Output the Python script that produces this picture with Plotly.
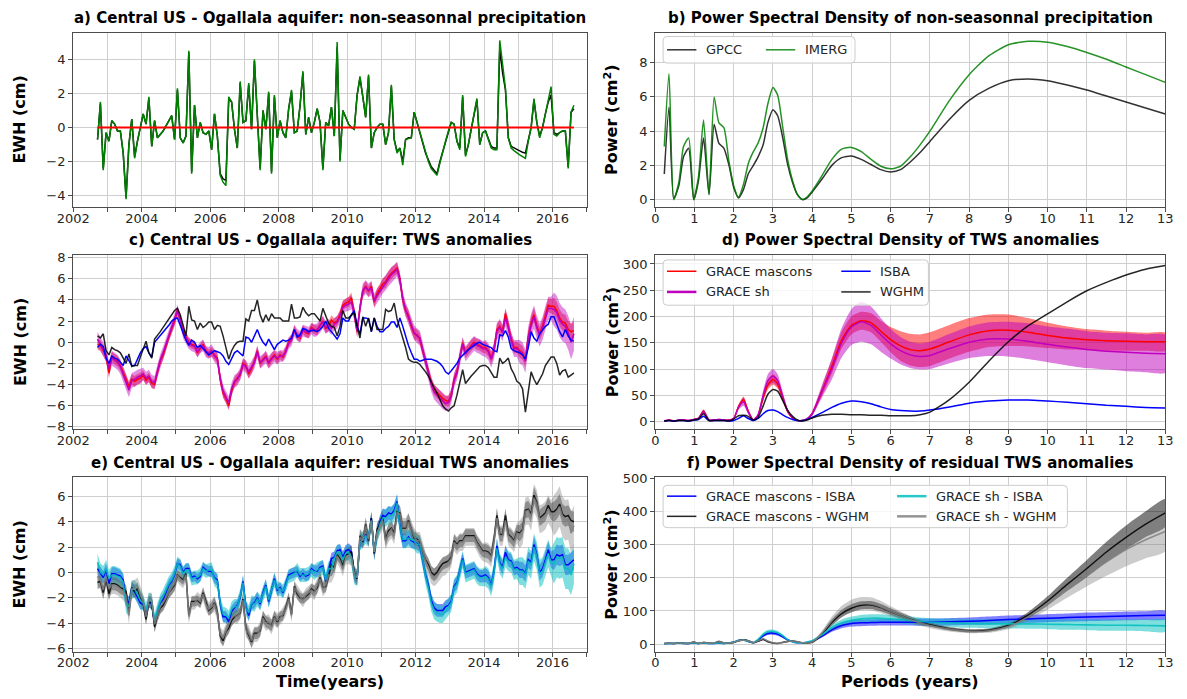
import plotly.graph_objects as go

W, H = 1187, 699
FONT = "DejaVu Sans"

# ---------------------------------------------------------------------------
# Monthly time axis, Sep 2002 .. Aug 2016 (one row of values per year)
# ---------------------------------------------------------------------------
START = (2002, 9)
END = (2016, 8)
YEARS = list(range(2002, 2017))


def month_axis():
    t, (y, m) = [], START
    while (y, m) <= END:
        t.append(y + (m - 0.5) / 12.0)
        m += 1
        if m > 12:
            y, m = y + 1, 1
    return t


def flat(rows):
    return [v for r in rows for v in r]


# a) non-seasonal precipitation (cm EWH)
imerg_rows = [
    [-0.7, 1.5, -2.5, -0.3],
    [-0.8, 0.4, 0.2, -0.2, -0.2, -1.5, -4.2, -1.0, 0.5, -1.8, -0.8, 0.0],
    [0.8, 0.2, 1.8, -1.1, 0.4, -0.6, -0.4, -0.2, 0.1, 0.4, 0.7, -0.7],
    [2.3, -0.6, -0.9, -0.5, 4.5, -2.7, 1.3, -0.6, 0.3, -0.3, -0.4, -0.2],
    [-1.3, 0.8, -0.5, -2.8, -3.2, -3.4, 1.8, 1.5, -0.1, -1.2, 2.7, 0.3],
    [0.4, 2.6, -0.1, 4.0, 0.9, -2.5, 1.0, -0.1, 2.1, -2.7, 1.9, -0.6],
    [0.4, -0.3, -0.6, 1.1, 2.2, -0.3, -0.2, 1.3, 3.3, -0.4, 0.6, -0.3],
    [0.3, 1.1, 0.3, -2.5, 0.3, 0.1, 1.2, -0.5, 5.0, -2.0, 1.0, 0.6],
    [0.2, 0.0, -0.1, 1.9, 3.0, 1.8, 0.6, 3.1, -1.2, -0.3, 0.0, 0.2],
    [0.2, -1.0, -0.3, 2.5, -0.7, -1.5, -1.2, -2.2, -0.7, -0.65, -0.6, 0.9],
    [0.3, -0.3, -0.9, -1.5, -2.0, -2.4, -2.6, -2.8, -2.1, -1.4, -0.8, -0.2],
    [0.3, 0.2, -0.8, -1.3, 1.9, -1.7, -1.0, -0.1, 0.8, 1.7, -1.0, -0.3],
    [-0.2, -0.7, -1.2, -1.3, -1.3, 5.1, 3.5, 2.3, -0.6, -1.2, -1.35, -1.5],
    [-1.6, -1.7, -1.8, -0.8, 0.0, 1.7, 0.3, -0.6, 0.0, 0.8, 1.7, 2.4],
    [-0.4, -0.5, -0.3, -0.2, -0.2, -2.4, 0.9, 1.3],
]
gpcc_rows = [
    [-0.7, 1.4, -2.4, -0.3],
    [-0.8, 0.4, 0.2, -0.2, -0.2, -1.5, -4.1, -1.0, 0.5, -1.7, -0.8, 0.0],
    [0.8, 0.2, 1.7, -1.1, 0.4, -0.6, -0.4, -0.2, 0.1, 0.4, 0.7, -0.7],
    [2.2, -0.6, -0.9, -0.5, 4.4, -2.6, 1.3, -0.6, 0.3, -0.3, -0.4, -0.2],
    [-1.3, 0.8, -0.5, -2.7, -3.0, -3.1, 1.7, 1.5, -0.1, -1.2, 2.6, 0.3],
    [0.4, 2.5, -0.1, 3.9, 0.9, -2.4, 1.0, -0.1, 2.0, -2.6, 1.8, -0.6],
    [0.4, -0.3, -0.6, 1.1, 2.1, -0.3, -0.2, 1.3, 3.2, -0.4, 0.6, -0.3],
    [0.3, 1.1, 0.3, -2.4, 0.3, 0.1, 1.2, -0.5, 4.7, -1.9, 1.0, 0.6],
    [0.2, 0.0, -0.1, 1.9, 2.9, 1.8, 0.6, 3.0, -1.2, -0.3, 0.0, 0.2],
    [0.2, -1.0, -0.3, 2.4, -0.7, -1.4, -1.2, -2.0, -0.7, -0.6, -0.6, 0.9],
    [0.3, -0.3, -0.9, -1.5, -1.9, -2.3, -2.5, -2.7, -2.0, -1.4, -0.8, -0.2],
    [0.3, 0.2, -0.8, -1.2, 1.8, -1.6, -1.0, -0.1, 0.8, 1.6, -1.0, -0.3],
    [-0.2, -0.7, -1.1, -1.2, -1.2, 4.6, 3.2, 2.2, -0.6, -1.1, -1.2, -1.3],
    [-1.4, -1.45, -1.5, -0.7, 0.0, 1.6, 0.3, -0.5, 0.0, 0.8, 1.5, 1.9],
    [-0.3, -0.4, -0.3, -0.2, -0.2, -2.3, 0.9, 1.1],
]

# c) TWS anomalies (cm EWH)
mascons_rows = [
    [-0.2, -0.3, -0.8, -1.3],
    [-2.9, -1.4, -1.6, -1.8, -2.2, -2.8, -3.5, -4.2, -3.5, -3.7, -3.5, -3.4],
    [-3.1, -3.6, -3.3, -3.9, -4.0, -2.8, -1.8, -1.2, -0.3, 0.6, 1.3, 2.0],
    [3.0, 2.2, 1.0, 0.5, 0.0, -0.2, -0.3, -1.0, -0.6, -0.2, -0.8, -1.1],
    [-0.9, -1.2, -1.5, -3.5, -4.8, -5.3, -6.0, -4.6, -3.8, -3.4, -3.1, -2.0],
    [-2.2, -3.0, -2.5, -1.8, -0.8, -2.0, -1.6, -1.3, -2.0, -1.5, -1.2, -1.6],
    [-1.2, -1.4, -0.8, 0.0, 0.3, 1.2, 0.6, 0.4, 1.2, 0.9, 0.8, 1.4],
    [1.2, 1.1, 1.6, 2.0, 1.3, 1.5, 2.1, 1.8, 2.0, 2.6, 3.5, 3.7],
    [3.8, 4.2, 2.8, 1.0, 3.3, 4.8, 5.3, 4.8, 5.3, 3.8, 4.6, 5.0],
    [5.5, 5.7, 6.2, 6.5, 6.8, 7.0, 6.0, 4.0, 3.0, 2.5, 1.5, 0.8],
    [0.7, 0.3, -0.8, -1.8, -2.6, -3.8, -4.5, -4.8, -5.0, -5.3, -5.5, -5.6],
    [-5.0, -3.5, -2.8, -1.3, -0.1, -1.0, -0.6, -0.3, 0.0, -0.2, -0.3, -0.5],
    [-0.5, -0.8, -1.5, -0.7, 1.2, 1.5, 1.0, 2.7, 1.5, 0.3, -0.5, -0.5],
    [-0.8, -1.0, -1.7, 0.5, 1.8, 2.6, 1.5, 0.8, 1.5, 2.5, 3.5, 3.4],
    [3.4, 3.0, 2.3, 1.9, 1.8, 1.2, 1.0, 1.1],
]
sh_rows = [
    [0.3, -0.2, -0.6, -1.2],
    [-2.5, -1.5, -1.7, -1.9, -2.3, -3.0, -3.8, -4.5, -3.6, -3.5, -3.3, -3.2],
    [-3.0, -3.4, -3.2, -3.7, -3.8, -2.7, -1.7, -1.0, -0.2, 0.7, 1.4, 2.1],
    [3.0, 2.1, 0.9, 0.4, -0.1, -0.3, -0.4, -0.9, -0.5, -0.3, -0.9, -1.0],
    [-0.8, -1.3, -1.6, -3.4, -4.6, -5.2, -5.7, -4.4, -3.7, -3.5, -3.0, -2.1],
    [-2.3, -2.8, -2.4, -1.9, -0.9, -1.9, -1.7, -1.4, -1.9, -1.6, -1.3, -1.5],
    [-1.3, -1.3, -0.9, -0.1, 0.2, 1.1, 0.7, 0.5, 1.1, 1.0, 0.9, 1.3],
    [1.1, 1.2, 1.5, 1.9, 1.4, 1.6, 1.3, 1.7, 1.9, 2.4, 3.3, 3.5],
    [3.6, 3.8, 2.7, 1.1, 3.2, 4.9, 5.2, 4.9, 5.1, 3.9, 4.4, 4.8],
    [5.3, 5.6, 6.0, 6.4, 6.6, 6.9, 5.9, 4.1, 3.1, 2.4, 1.6, 0.9],
    [0.6, 0.4, -0.7, -1.9, -2.8, -4.0, -4.7, -5.0, -5.3, -5.6, -5.8, -5.7],
    [-5.1, -3.6, -2.9, -1.4, -0.2, -1.1, -0.7, -0.4, -0.1, -0.3, -0.4, -0.6],
    [-0.6, -0.9, -1.6, -0.8, 1.0, 1.4, 0.9, 2.3, 1.4, 0.2, -0.6, -0.6],
    [-0.9, -1.1, -1.8, 0.4, 1.6, 2.4, 1.4, 0.7, 1.3, 2.3, 3.2, 3.2],
    [3.1, 2.8, 2.1, 1.7, 1.5, 0.9, 0.0, 0.8],
]
isba_rows = [
    [-0.5, -0.2, -0.4, -1.5],
    [-2.0, -1.3, -1.5, -1.6, -1.9, -2.2, -1.3, -1.8, -2.2, -2.2, -1.6, -1.0],
    [-0.6, -0.4, -1.0, -1.4, 0.0, 0.3, 0.6, 0.9, 1.2, 1.6, 2.0, 2.2],
    [2.3, 1.6, 1.0, 0.2, -0.3, 0.2, 0.0, -0.5, -0.3, -0.6, -1.0, -1.2],
    [-1.0, -0.8, -0.9, -1.0, -1.3, -1.8, -2.1, -1.5, -1.0, -0.8, -1.1, -1.3],
    [0.5, 0.4, 0.0, 0.6, 1.2, 0.5, 0.0, -0.3, 0.3, -0.2, -0.7, -0.2],
    [0.0, 0.2, 0.1, 0.2, 0.4, 1.2, 0.5, 0.7, 1.3, 1.2, 1.0, 1.1],
    [1.1, 1.0, 1.2, 1.5, 2.0, 1.3, 1.0, 0.6, 0.3, 0.8, 2.3, 2.0],
    [2.0, 2.6, 3.0, 1.5, 0.8, 2.3, 2.3, 2.2, 1.0, 2.3, 1.5, 1.0],
    [1.0, 1.3, 1.5, 1.9, 1.9, 1.4, 2.3, 1.5, 0.5, -0.3, -1.0, -1.6],
    [-1.6, -1.8, -1.7, -1.6, -1.6, -1.6, -1.7, -1.8, -2.0, -2.3, -2.8, -3.0],
    [-2.7, -2.4, -2.0, -1.5, -1.2, -1.0, -0.7, -0.5, -0.3, -0.1, 0.0, -0.2],
    [-0.3, -0.4, -0.5, -0.8, -0.9, 0.7, 0.6, 1.1, 0.5, -0.6, -0.8, -0.9],
    [-1.0, -1.2, -1.6, -0.5, 1.0, 0.4, 0.1, 0.8, 1.2, 1.5, 1.7, 2.4],
    [2.4, 1.6, 1.0, 0.5, 1.2, 0.6, 0.2, 0.1],
]
wghm_rows = [
    [0.6, 0.4, 0.8, -0.8],
    [-1.2, -0.5, -0.7, -0.8, -1.0, -1.5, -2.0, -1.1, -2.3, -2.2, -2.2, -1.4],
    [-0.7, 0.1, -1.0, -1.5, 0.3, 0.6, 1.0, 1.4, 1.8, 2.2, 2.6, 3.0],
    [3.2, 2.6, 1.6, 0.6, 3.4, 2.1, 2.0, 1.2, 1.8, 1.4, 1.6, 1.9],
    [1.9, 1.2, 1.6, 1.5, 0.6, -0.6, -1.6, -0.8, -0.3, 0.0, 0.1, 0.1],
    [2.2, 2.0, 3.0, 3.0, 4.0, 2.6, 1.9, 2.6, 2.0, 2.7, 2.3, 2.3],
    [2.3, 2.0, 2.0, 2.0, 3.6, 2.3, 2.3, 2.4, 3.3, 2.8, 2.5, 2.7],
    [2.7, 2.3, 2.0, 3.2, 2.4, 1.8, 1.5, 1.4, 0.6, 1.5, 3.0, 2.3],
    [2.3, 2.6, 2.8, 1.5, 0.4, 2.4, 1.5, 2.3, 1.0, 2.3, 1.2, 1.2],
    [1.2, 3.1, 2.9, 3.0, 3.7, 2.2, 1.3, 0.5, -0.5, -1.6, -1.8, -1.9],
    [-1.9, -2.1, -2.4, -2.8, -3.2, -3.8, -4.3, -4.8, -5.4, -6.0, -6.3, -6.5],
    [-6.2, -6.0, -5.0, -3.8, -2.6, -3.9, -3.5, -3.2, -2.9, -2.6, -2.3, -2.2],
    [-2.2, -2.4, -2.8, -3.3, -3.3, -1.5, -2.0, -1.8, -1.5, -2.5, -3.0, -3.7],
    [-3.9, -4.4, -6.6, -4.5, -2.8, -3.5, -4.0, -3.5, -3.0, -2.2, -1.8, -1.4],
    [-1.4, -2.0, -3.1, -2.7, -2.6, -3.3, -3.1, -2.9],
]
# GRACE one-sigma uncertainty per calendar year (cm)
mascons_unc = [0.5, 0.5, 0.45, 0.4, 0.45, 0.45, 0.4, 0.45, 0.5, 0.55, 0.5, 0.5, 0.55, 0.65, 0.8]
sh_unc = [0.7, 0.7, 0.6, 0.55, 0.6, 0.6, 0.55, 0.6, 0.65, 0.7, 0.7, 0.7, 0.8, 1.1, 1.6]

# ---------------------------------------------------------------------------
# Power spectral densities against period (years)
# ---------------------------------------------------------------------------
periods = [0.23, 0.35, 0.47, 0.6, 0.72, 0.85, 0.98,
           1.1, 1.23, 1.37, 1.5, 1.62, 1.75, 1.88,
           2.0, 2.12, 2.25, 2.37, 2.5, 2.62, 2.75, 2.87,
           3.0, 3.12, 3.25, 3.37, 3.5, 3.62, 3.75, 3.87,
           4.0, 4.25, 4.5, 4.75, 5.0, 5.25, 5.5, 5.75,
           6.0, 6.25, 6.5, 6.75, 7.0, 7.5, 8.0, 8.5,
           9.0, 9.5, 10.0, 10.5, 11.0, 11.5, 12.0, 12.5, 13.0]

psd_gpcc = [1.5, 5.4, 0.05, 0.8, 2.5, 3.0, 0.0,
            1.1, 3.6, 0.3, 4.4, 3.3, 3.0, 2.0,
            0.7, 0.1, 0.6, 1.5, 2.0, 2.5, 3.2, 4.5,
            5.25, 4.9, 3.6, 2.1, 1.0, 0.3, 0.0, 0.1,
            0.45, 1.2, 2.0, 2.45, 2.55, 2.35, 2.05, 1.75,
            1.62, 1.75, 2.2, 2.75, 3.4, 4.7, 5.8, 6.5,
            6.95, 7.05, 6.95, 6.7, 6.4, 6.05, 5.7, 5.35, 5.0]
psd_imerg = [3.1, 7.35, 0.0, 1.0, 3.1, 3.6, 0.0,
             1.3, 4.65, 0.3, 6.0, 4.5, 4.2, 2.2,
             0.8, 0.15, 0.9, 2.1, 2.8, 3.3, 4.2, 5.6,
             6.55, 6.1, 4.2, 2.4, 1.1, 0.3, 0.0, 0.15,
             0.5, 1.4, 2.35, 2.95, 3.05, 2.8, 2.35, 1.95,
             1.8, 1.95, 2.5, 3.2, 4.0, 5.8, 7.3, 8.4,
             9.05, 9.25, 9.2, 8.95, 8.6, 8.2, 7.75, 7.3, 6.85]

psd_mascons = [1, 3, 1, 3, 3, 2, 4,
               6, 20, 3, 3, 4, 3, 3,
               6, 28, 42, 20, 3, 12, 45, 70,
               80, 72, 45, 20, 7, 2, 2, 5,
               15, 58, 105, 155, 183, 192, 188, 172,
               156, 144, 137, 135, 138, 152, 165, 173,
               174, 170, 164, 159, 156, 154, 153, 152, 152]
psd_mascons_err = [0.2, 0.5, 0.2, 0.5, 0.5, 0.4, 0.6,
                   1, 3, 0.5, 0.5, 0.6, 0.5, 0.5,
                   1, 4, 6, 3, 0.5, 2, 6, 9,
                   10, 9, 6, 3, 1, 0.3, 0.3, 1,
                   3, 9, 14, 16, 17, 17, 18, 20,
                   24, 28, 30, 31, 32, 32, 32, 31,
                   30, 27, 24, 22, 20, 19, 18, 17, 17]
psd_sh = [1, 3, 1, 3, 3, 2, 4,
          6, 19, 3, 3, 4, 3, 3,
          6, 27, 38, 18, 3, 13, 50, 78,
          87, 78, 48, 21, 7, 2, 2, 5,
          15, 58, 100, 150, 180, 190, 183, 165,
          148, 135, 127, 124, 126, 139, 151, 157,
          157, 153, 147, 142, 137, 134, 132, 130, 129]
psd_sh_err = [0.3, 0.8, 0.3, 0.8, 0.8, 0.5, 1,
              1.5, 4, 0.8, 0.8, 1, 0.8, 0.8,
              1.5, 5, 8, 4, 0.8, 3, 9, 12,
              13, 12, 8, 4, 1.5, 0.5, 0.5, 1.5,
              4, 12, 20, 28, 34, 38, 36, 32,
              28, 26, 25, 25, 26, 28, 30, 32,
              33, 34, 34, 35, 35, 35, 36, 36, 36]
psd_isba = [1, 2, 1, 2, 2, 1, 3,
            4, 10, 2, 2, 2, 2, 1,
            2, 6, 11, 6, 2, 6, 15, 21,
            22, 19, 13, 8, 4, 2, 2, 4,
            8, 17, 27, 35, 39, 38, 34, 28,
            23, 21, 20, 20, 22, 28, 35, 39,
            41, 41, 39, 37, 34, 31, 29, 27, 26]
psd_wghm = [1, 2, 1, 2, 2, 1, 3,
            5, 15, 2, 2, 2, 2, 1,
            5, 11, 12, 10, 3, 8, 30, 52,
            61, 58, 40, 22, 10, 3, 1, 3,
            7, 12, 14, 14, 13, 13, 12, 12,
            11, 11, 11, 13, 18, 42, 75, 115,
            152, 182, 205, 228, 249, 265, 279, 290, 297]

psd_mas_isba = [1, 2, 2, 3, 2, 2, 3,
                2, 3, 2, 2, 3, 2, 3,
                6, 11, 13, 8, 4, 12, 25, 32,
                33, 30, 22, 13, 7, 4, 4, 5,
                8, 24, 43, 56, 62, 64, 65, 66,
                66, 66, 66, 66, 66, 67, 69, 71,
                74, 76, 78, 80, 82, 83, 85, 86, 87]
psd_mas_isba_err = [0.3, 0.4, 0.4, 0.5, 0.4, 0.4, 0.5,
                    0.4, 0.5, 0.4, 0.4, 0.5, 0.4, 0.5,
                    1, 2, 2, 1.5, 1, 2, 4, 5,
                    5, 5, 4, 2, 1, 1, 1, 1,
                    2, 4, 6, 8, 9, 10, 10, 10,
                    10, 10, 10, 11, 11, 11, 11, 12,
                    12, 12, 12, 12, 13, 13, 13, 13, 13]
psd_sh_isba = [1, 2, 2, 3, 2, 2, 3,
               2, 3, 2, 2, 3, 2, 3,
               6, 11, 12, 8, 4, 14, 29, 37,
               38, 34, 25, 14, 7, 4, 4, 6,
               10, 28, 50, 64, 72, 76, 78, 78,
               76, 74, 71, 68, 66, 64, 62, 61,
               61, 61, 60, 59, 58, 57, 57, 56, 55]
psd_sh_isba_err = [0.3, 0.4, 0.4, 0.5, 0.4, 0.4, 0.5,
                   0.4, 0.5, 0.4, 0.4, 0.5, 0.4, 0.5,
                   1, 2, 2, 1.5, 1, 3, 5, 6,
                   6, 6, 4, 2, 1, 1, 1, 1.5,
                   2, 5, 8, 10, 11, 12, 12, 12,
                   12, 12, 12, 12, 12, 13, 13, 14,
                   14, 15, 15, 16, 16, 17, 17, 18, 18]
psd_mas_wghm = [2, 3, 2, 3, 3, 2, 6,
                2, 5, 3, 3, 8, 3, 3,
                5, 10, 13, 10, 4, 8, 14, 7,
                3, 2, 5, 8, 9, 7, 4, 3,
                5, 30, 65, 92, 108, 117, 118, 110,
                98, 86, 75, 65, 58, 46, 40, 42,
                56, 87, 130, 180, 228, 278, 322, 362, 396]
psd_mas_wghm_err = [0.5, 0.5, 0.5, 0.5, 0.5, 0.5, 1,
                    0.5, 1, 0.5, 0.5, 1, 0.5, 0.5,
                    1, 2, 2, 2, 1, 1, 2, 1,
                    0.5, 0.5, 1, 1, 1, 1, 1, 1,
                    1, 5, 9, 11, 12, 12, 12, 11,
                    10, 9, 8, 7, 6, 5, 5, 5,
                    6, 9, 14, 20, 26, 31, 36, 39, 42]
psd_sh_wghm = [2, 3, 2, 3, 3, 2, 6,
               2, 5, 3, 3, 8, 3, 3,
               5, 10, 12, 10, 4, 9, 16, 9,
               4, 2, 5, 8, 9, 7, 4, 3,
               6, 33, 70, 98, 115, 122, 121, 112,
               99, 86, 74, 64, 56, 45, 39, 40,
               53, 82, 122, 166, 208, 248, 285, 315, 340]
psd_sh_wghm_err = [0.5, 0.5, 0.5, 0.5, 0.5, 0.5, 1,
                   0.5, 1, 0.5, 0.5, 1, 0.5, 0.5,
                   1, 2, 2, 2, 1, 1.5, 3, 2,
                   1, 0.5, 1, 1, 1, 1, 1, 1,
                   1, 7, 13, 17, 19, 20, 20, 18,
                   15, 13, 11, 9, 8, 7, 6, 6,
                   8, 12, 18, 26, 34, 42, 50, 56, 60]

# ---------------------------------------------------------------------------
t = month_axis()
imerg, gpcc = flat(imerg_rows), flat(gpcc_rows)
mascons, sh = flat(mascons_rows), flat(sh_rows)
isba, wghm = flat(isba_rows), flat(wghm_rows)
for name, s in [("imerg", imerg), ("gpcc", gpcc), ("mascons", mascons),
                ("sh", sh), ("isba", isba), ("wghm", wghm)]:
    if len(s) != len(t):
        raise ValueError(f"{name}: {len(s)} values for {len(t)} months")
for name, s in [("gpcc", psd_gpcc), ("imerg", psd_imerg), ("mascons", psd_mascons),
                ("mascons_err", psd_mascons_err), ("sh", psd_sh), ("sh_err", psd_sh_err),
                ("isba", psd_isba), ("wghm", psd_wghm), ("mi", psd_mas_isba),
                ("mi_err", psd_mas_isba_err), ("si", psd_sh_isba), ("si_err", psd_sh_isba_err),
                ("mw", psd_mas_wghm), ("mw_err", psd_mas_wghm_err), ("sw", psd_sh_wghm),
                ("sw_err", psd_sh_wghm_err)]:
    if len(s) != len(periods):
        raise ValueError(f"psd {name}: {len(s)} values for {len(periods)} periods")

year_of = [int(v) for v in t]
mascons_sig = [mascons_unc[YEARS.index(y)] for y in year_of]
sh_sig = [sh_unc[YEARS.index(y)] for y in year_of]

# residual storage: GRACE minus hydrological model
res_mas_isba = [a - b for a, b in zip(mascons, isba)]
res_sh_isba = [a - b for a, b in zip(sh, isba)]
res_mas_wghm = [a - b for a, b in zip(mascons, wghm)]
res_sh_wghm = [a - b for a, b in zip(sh, wghm)]

# ---------------------------------------------------------------------------
# Layout geometry (pixels)
# ---------------------------------------------------------------------------
COLS = [(57.5, 582.0), (652.0, 1173.0)]
ROWS = [(27.0, 204.0), (253.0, 430.0), (479.0, 656.0)]


def X(px):
    return px / W


def Y(px):
    return 1 - px / H


RED, MAG, BLUE, CYAN = "rgb(255,0,0)", "rgb(191,0,191)", "rgb(0,0,255)", "rgb(0,191,191)"
GREY = "rgb(128,128,128)"

fig = go.Figure()


def line(x, y, color, ax, width=1.5, shape="linear", opacity=1.0):
    fig.add_trace(go.Scatter(x=x, y=y, mode="lines", opacity=opacity,
                             line=dict(color=color, width=width, shape=shape,
                                       smoothing=0.6 if shape == "spline" else None),
                             xaxis="x" + ax, yaxis="y" + ax, showlegend=False,
                             hoverinfo="skip"))


def band(x, y, err, fillcolor, ax, shape="linear"):
    hi = [a + e for a, e in zip(y, err)]
    lo = [a - e for a, e in zip(y, err)]
    fig.add_trace(go.Scatter(x=list(x) + list(x)[::-1], y=hi + lo[::-1],
                             mode="lines", fill="toself", fillcolor=fillcolor,
                             line=dict(width=0, shape=shape,
                                       smoothing=0.6 if shape == "spline" else None),
                             xaxis="x" + ax, yaxis="y" + ax, showlegend=False,
                             hoverinfo="skip"))


# a) precipitation
line(t, gpcc, "black", "1")
line(t, imerg, "green", "1")
line([t[0], t[-1]], [0, 0], RED, "1", width=2)

# b) PSD precipitation
line(periods, psd_gpcc, "black", "2", shape="spline", opacity=0.8)
line(periods, psd_imerg, "green", "2", shape="spline", opacity=0.85)

# c) TWS anomalies
band(t, mascons, mascons_sig, "rgba(255,0,0,0.45)", "3")
band(t, sh, sh_sig, "rgba(191,0,191,0.45)", "3")
line(t, mascons, RED, "3")
line(t, sh, MAG, "3", width=1.6)
line(t, isba, BLUE, "3")
line(t, wghm, "black", "3", opacity=0.85)

# d) PSD TWS
band(periods, psd_mascons, psd_mascons_err, "rgba(255,0,0,0.5)", "4", "spline")
band(periods, psd_sh, psd_sh_err, "rgba(191,0,191,0.5)", "4", "spline")
line(periods, psd_mascons, RED, "4", shape="spline")
line(periods, psd_sh, MAG, "4", shape="spline")
line(periods, psd_isba, BLUE, "4", shape="spline")
line(periods, psd_wghm, "black", "4", shape="spline", opacity=0.85)

# e) residual TWS
band(t, res_mas_isba, mascons_sig, "rgba(0,0,255,0.45)", "5")
band(t, res_mas_wghm, mascons_sig, "rgba(0,0,0,0.4)", "5")
band(t, res_sh_isba, sh_sig, "rgba(0,191,191,0.5)", "5")
band(t, res_sh_wghm, sh_sig, "rgba(128,128,128,0.4)", "5")
line(t, res_mas_isba, BLUE, "5")
line(t, res_mas_wghm, "black", "5", opacity=0.85)
line(t, res_sh_isba, CYAN, "5", width=1.6, opacity=0.85)
line(t, res_sh_wghm, GREY, "5", width=1.6, opacity=0.85)

# f) PSD residuals
band(periods, psd_mas_isba, psd_mas_isba_err, "rgba(0,0,255,0.5)", "6", "spline")
band(periods, psd_mas_wghm, psd_mas_wghm_err, "rgba(0,0,0,0.5)", "6", "spline")
band(periods, psd_sh_isba, psd_sh_isba_err, "rgba(0,191,191,0.5)", "6", "spline")
band(periods, psd_sh_wghm, psd_sh_wghm_err, "rgba(128,128,128,0.4)", "6", "spline")
line(periods, psd_mas_isba, BLUE, "6", shape="spline")
line(periods, psd_mas_wghm, "black", "6", shape="spline", opacity=0.85)
line(periods, psd_sh_isba, CYAN, "6", shape="spline", width=1.6, opacity=0.85)
line(periods, psd_sh_wghm, GREY, "6", shape="spline", width=1.6, opacity=0.85)

# ---------------------------------------------------------------------------
# Axes
# ---------------------------------------------------------------------------
AXC = "#4d4d4d"
GRID = "#cfcfcf"
TICKFONT = dict(family=FONT, size=13, color="#262626")


def fmt(v):
    s = f"{v:g}"
    return s.replace("-", "\u2212")


year_ticks = list(range(2002, 2018))
year_text = [str(y) if (y % 2 == 0 and y < 2017) else " " for y in year_ticks]
period_ticks = list(range(0, 14))

panels = {
    "1": dict(col=0, row=0, xr=[2002, 2017], yr=[-4.64, 5.56], yt=[-4, -2, 0, 2, 4]),
    "2": dict(col=1, row=0, xr=[0, 13], yr=[-0.42, 9.76], yt=[0, 2, 4, 6, 8]),
    "3": dict(col=0, row=1, xr=[2002, 2017], yr=[-8.22, 8.24], yt=list(range(-8, 9, 2))),
    "4": dict(col=1, row=1, xr=[0, 13], yr=[-14.5, 317], yt=list(range(0, 301, 50))),
    "5": dict(col=0, row=2, xr=[2002, 2017], yr=[-6.26, 7.5], yt=list(range(-6, 7, 2))),
    "6": dict(col=1, row=2, xr=[0, 13], yr=[-23, 503], yt=list(range(0, 501, 100))),
}

axis_common = dict(showline=True, linecolor=AXC, linewidth=1.3, mirror=True,
                   ticks="outside", ticklen=4, tickcolor=AXC, tickwidth=1,
                   showgrid=True, gridcolor=GRID, gridwidth=1, zeroline=False,
                   tickfont=TICKFONT, fixedrange=True)

for k, p in panels.items():
    x0, x1 = COLS[p["col"]]
    y0, y1 = ROWS[p["row"]]
    if p["col"] == 0:
        xt, xtt = year_ticks, year_text
    else:
        xt, xtt = period_ticks, [str(v) for v in period_ticks]
    xa = dict(axis_common, domain=[X(x0), X(x1)], range=p["xr"], anchor="y" + k,
              tickmode="array", tickvals=xt, ticktext=xtt, ticklabelstandoff=-5)
    ya = dict(axis_common, domain=[Y(y1), Y(y0)], range=p["yr"], anchor="x" + k,
              tickmode="array", tickvals=p["yt"], ticktext=[fmt(v) for v in p["yt"]])
    name = "" if k == "1" else k
    fig.layout["xaxis" + name] = xa
    fig.layout["yaxis" + name] = ya

# ---------------------------------------------------------------------------
# Text: titles and axis labels
# ---------------------------------------------------------------------------
titles = [
    "a) Central US - Ogallala aquifer: non-seasonnal precipitation",
    "b) Power Spectral Density of non-seasonnal precipitation",
    "c) Central US - Ogallala aquifer: TWS anomalies",
    "d) Power Spectral Density of TWS anomalies",
    "e) Central US - Ogallala aquifer: residual TWS anomalies",
    "f) Power Spectral Density of residual TWS anomalies",
]
annotations = []
for i, txt in enumerate(titles):
    x0, x1 = COLS[i % 2]
    y0, _ = ROWS[i // 2]
    annotations.append(dict(text=f"<b>{txt}</b>", x=X((x0 + x1) / 2), y=Y(y0 - 15),
                            xref="paper", yref="paper", xanchor="center", yanchor="middle",
                            showarrow=False, font=dict(family=FONT, size=15, color="black")))

for r in range(3):
    yc = (ROWS[r][0] + ROWS[r][1]) / 2
    annotations.append(dict(text="<b>EWH (cm)</b>", x=X(3), y=Y(yc), xref="paper",
                            yref="paper", textangle=-90, showarrow=False,
                            xanchor="center", yanchor="middle",
                            font=dict(family=FONT, size=16, color="black")))
    annotations.append(dict(text="<b>Power (cm<sup>2</sup>)</b>", x=X(607), y=Y(yc),
                            xref="paper", yref="paper", textangle=-90, showarrow=False,
                            xanchor="center", yanchor="middle",
                            font=dict(family=FONT, size=16, color="black")))

annotations.append(dict(text="<b>Time(years)</b>", x=X(sum(COLS[0]) / 2), y=Y(686),
                        xref="paper", yref="paper", showarrow=False,
                        xanchor="center", yanchor="middle",
                        font=dict(family=FONT, size=16, color="black")))
annotations.append(dict(text="<b>Periods (years)</b>", x=X(sum(COLS[1]) / 2), y=Y(686),
                        xref="paper", yref="paper", showarrow=False,
                        xanchor="center", yanchor="middle",
                        font=dict(family=FONT, size=16, color="black")))

# ---------------------------------------------------------------------------
# Legends (two-column boxes inside the PSD panels)
# ---------------------------------------------------------------------------
shapes = []


def rounded_box(x0, y0, x1, y1, r=4):
    path = (f"M {X(x0 + r)},{Y(y0)} L {X(x1 - r)},{Y(y0)} "
            f"Q {X(x1)},{Y(y0)} {X(x1)},{Y(y0 + r)} L {X(x1)},{Y(y1 - r)} "
            f"Q {X(x1)},{Y(y1)} {X(x1 - r)},{Y(y1)} L {X(x0 + r)},{Y(y1)} "
            f"Q {X(x0)},{Y(y1)} {X(x0)},{Y(y1 - r)} L {X(x0)},{Y(y0 + r)} "
            f"Q {X(x0)},{Y(y0)} {X(x0 + r)},{Y(y0)} Z")
    shapes.append(dict(type="path", path=path, xref="paper", yref="paper",
                       fillcolor="rgba(255,255,255,0.8)",
                       line=dict(color="#cccccc", width=1), layer="above"))


def legend(box, items):
    rounded_box(*box)
    for (x, y, color, width, label) in items:
        shapes.append(dict(type="line", xref="paper", yref="paper",
                           x0=X(x), x1=X(x + 30), y0=Y(y), y1=Y(y),
                           line=dict(color=color, width=width), layer="above"))
        annotations.append(dict(text=label, x=X(x + 38), y=Y(y), xref="paper", yref="paper",
                                xanchor="left", yanchor="middle", showarrow=False,
                                font=dict(family=FONT, size=13, color="#262626")))


legend((660, 31, 856, 58), [
    (664, 44.5, "rgba(0,0,0,0.8)", 1.5, "GPCC"),
    (765, 44.5, "rgba(0,128,0,0.85)", 1.5, "IMERG"),
])
legend((660, 258, 931, 304), [
    (664, 269.5, RED, 1.5, "GRACE mascons"),
    (842, 269.5, BLUE, 1.5, "ISBA"),
    (664, 290.5, MAG, 2.5, "GRACE sh"),
    (842, 290.5, "rgba(0,0,0,0.85)", 1.5, "WGHM"),
])
legend((660, 487, 1073, 530), [
    (664, 498, BLUE, 1.5, "GRACE mascons - ISBA"),
    (899, 498, "rgba(0,191,191,0.85)", 2.5, "GRACE sh - ISBA"),
    (664, 518.5, "rgba(0,0,0,0.85)", 1.5, "GRACE mascons - WGHM"),
    (899, 518.5, "rgba(128,128,128,0.85)", 2.5, "GRACE sh - WGHM"),
])

fig.update_layout(width=W, height=H, margin=dict(l=0, r=0, t=0, b=0),
                  paper_bgcolor="white", plot_bgcolor="white",
                  annotations=annotations, shapes=shapes, showlegend=False,
                  font=dict(family=FONT))

fig.write_html("out.html", config={"displayModeBar": False})
